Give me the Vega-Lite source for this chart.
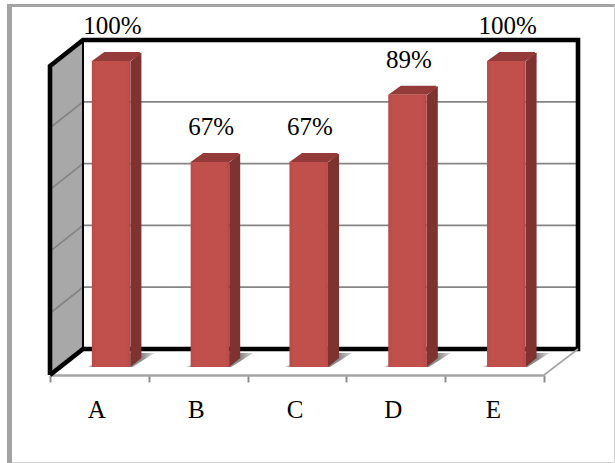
{
  "$schema": "https://vega.github.io/schema/vega-lite/v6.json",
  "width": 494,
  "height": 309,
  "padding": {"left": 50, "top": 66, "right": 71, "bottom": 88},
  "autosize": "none",
  "background": "white",
  "config": {"view": {"stroke": null}, "font": "Liberation Serif"},
  "data": {"values": [
    {"category": "A", "share": 1.0},
    {"category": "B", "share": 0.67},
    {"category": "C", "share": 0.67},
    {"category": "D", "share": 0.89},
    {"category": "E", "share": 1.0}
  ]},
  "resolve": {"scale": {"y": "independent"}},
  "layer": [
    {
      "description": "outer frame, left edge",
      "data": {"values": [{}]},
      "mark": {"type": "point", "shape": "M-40.5 -370L-40.5 88", "size": 4, "filled": false, "opacity": 1, "stroke": "#a3a3a3", "strokeWidth": 5},
      "encoding": {
        "x": {"datum": "A", "type": "nominal", "bandPosition": 0, "title": null, "scale": {"type": "band", "domain": ["A", "B", "C", "D", "E"], "paddingInner": 0, "paddingOuter": 0}},
        "y": {"datum": 0, "type": "quantitative", "scale": {"domain": [0, 1]}, "axis": null}
      }
    },
    {
      "description": "outer frame, top edge",
      "data": {"values": [{}]},
      "mark": {"type": "point", "shape": "M-43 -369.5L565 -369.5", "size": 4, "filled": false, "opacity": 1, "stroke": "#a3a3a3", "strokeWidth": 3},
      "encoding": {
        "x": {"datum": "A", "type": "nominal", "bandPosition": 0, "title": null, "scale": {"type": "band"}},
        "y": {"datum": 0, "type": "quantitative", "scale": {"domain": [0, 1]}, "axis": null}
      }
    },
    {
      "description": "outer frame, thin right and bottom edges",
      "data": {"values": [{}]},
      "mark": {"type": "point", "shape": "M564.5 -370L564.5 87.5L-38 87.5", "size": 4, "filled": false, "opacity": 1, "stroke": "#d4d4d4", "strokeWidth": 1},
      "encoding": {
        "x": {"datum": "A", "type": "nominal", "bandPosition": 0, "title": null, "scale": {"type": "band"}},
        "y": {"datum": 0, "type": "quantitative", "scale": {"domain": [0, 1]}, "axis": null}
      }
    },
    {
      "description": "left side wall",
      "data": {"values": [{}]},
      "mark": {"type": "point", "shape": "M0 0L0 -309L33 -335L33 -26Z", "size": 4, "filled": true, "opacity": 1, "fill": "#a8a8a8"},
      "encoding": {
        "x": {"datum": "A", "type": "nominal", "bandPosition": 0, "title": null, "scale": {"type": "band"}},
        "y": {"datum": 0, "type": "quantitative", "scale": {"domain": [0, 1]}, "axis": null}
      }
    },
    {
      "description": "gridlines running along the side wall and the back wall",
      "data": {"values": [{"level": 0.2}, {"level": 0.4}, {"level": 0.6}, {"level": 0.8}]},
      "mark": {"type": "point", "shape": "M0 0L33 -26L529 -26", "size": 4, "filled": false, "opacity": 1, "stroke": "#858585", "strokeWidth": 1.8},
      "encoding": {
        "x": {"datum": "A", "type": "nominal", "bandPosition": 0, "title": null, "scale": {"type": "band"}},
        "y": {"field": "level", "type": "quantitative", "scale": {"domain": [0, 1]}, "axis": null}
      }
    },
    {
      "description": "thin inner corner of the walls",
      "data": {"values": [{}]},
      "mark": {"type": "point", "shape": "M33 -335L33 -26", "size": 4, "filled": false, "opacity": 1, "stroke": "#000000", "strokeWidth": 2},
      "encoding": {
        "x": {"datum": "A", "type": "nominal", "bandPosition": 0, "title": null, "scale": {"type": "band"}},
        "y": {"datum": 0, "type": "quantitative", "scale": {"domain": [0, 1]}, "axis": null}
      }
    },
    {
      "description": "heavy black outline of the walls",
      "data": {"values": [{}]},
      "mark": {"type": "point", "shape": "M0 0L0 -309L33 -335L528 -335L528 -26L33 -26L0 0", "size": 4, "filled": false, "opacity": 1, "stroke": "#000000", "strokeWidth": 4.6},
      "encoding": {
        "x": {"datum": "A", "type": "nominal", "bandPosition": 0, "title": null, "scale": {"type": "band"}},
        "y": {"datum": 0, "type": "quantitative", "scale": {"domain": [0, 1]}, "axis": null}
      }
    },
    {
      "description": "right edge of the floor",
      "data": {"values": [{}]},
      "mark": {"type": "point", "shape": "M494 0L528 -26", "size": 4, "filled": false, "opacity": 1, "stroke": "#a6a6a6", "strokeWidth": 1.6},
      "encoding": {
        "x": {"datum": "A", "type": "nominal", "bandPosition": 0, "title": null, "scale": {"type": "band"}},
        "y": {"datum": 0, "type": "quantitative", "scale": {"domain": [0, 1]}, "axis": null}
      }
    },
    {
      "description": "category axis along the front of the floor",
      "mark": {"type": "bar", "opacity": 0},
      "encoding": {
        "x": {
          "field": "category",
          "type": "nominal",
          "scale": {"type": "band"},
          "title": null,
          "axis": {
            "orient": "bottom",
            "labelAngle": 0,
            "labelFont": "Liberation Serif",
            "labelFontSize": 25,
            "labelColor": "#000000",
            "labelPadding": 27,
            "labelOffset": 6,
            "domainColor": "#a6a6a6",
            "domainWidth": 2.5,
            "tickColor": "#8c8c8c",
            "tickWidth": 2,
            "tickSize": 7,
            "tickBand": "extent",
            "grid": false
          }
        },
        "y": {"datum": 0, "type": "quantitative", "scale": {"domain": [0, 1]}, "axis": null}
      }
    },
    {
      "description": "soft shadows on the floor behind each column",
      "mark": {"type": "point", "shape": "M-13 0L33 0L55 -14L25 -14Z", "size": 4, "filled": true, "opacity": 1, "fill": {"x1": 0, "y1": 0.5, "x2": 1, "y2": 0.5, "gradient": "linear", "stops": [{"offset": 0, "color": "#eeeeee"}, {"offset": 0.12, "color": "#9c9c9c"}, {"offset": 0.82, "color": "#8a8a8a"}, {"offset": 1, "color": "#dddddd"}]}},
      "encoding": {
        "x": {"field": "category", "type": "nominal", "title": null, "scale": {"type": "band"}},
        "y": {"datum": 0, "type": "quantitative", "scale": {"domain": [-0.0261, 0.9837]}, "axis": null}
      }
    },
    {
      "description": "column side faces",
      "mark": {"type": "bar", "size": 11, "xOffset": 36.5, "y2Offset": -9, "fill": "#7e3331"},
      "encoding": {
        "x": {"field": "category", "type": "nominal", "title": null, "scale": {"type": "band"}},
        "y": {"field": "share", "type": "quantitative", "scale": {"domain": [-0.0261, 0.9837]}, "axis": null},
        "y2": {"datum": 0}
      }
    },
    {
      "description": "upper corner of the column side faces",
      "mark": {"type": "point", "shape": "M31 0.5L42 -8.5L42 0.5Z", "size": 4, "filled": true, "opacity": 1, "fill": "#7e3331"},
      "encoding": {
        "x": {"field": "category", "type": "nominal", "title": null, "scale": {"type": "band"}},
        "y": {"field": "share", "type": "quantitative", "scale": {"domain": [-0.0261, 0.9837]}, "axis": null}
      }
    },
    {
      "description": "lower corner of the column side faces",
      "mark": {"type": "point", "shape": "M31 0L42 -9L31 -9Z", "size": 4, "filled": true, "opacity": 1, "fill": "#7e3331"},
      "encoding": {
        "x": {"field": "category", "type": "nominal", "title": null, "scale": {"type": "band"}},
        "y": {"datum": 0, "type": "quantitative", "scale": {"domain": [-0.0261, 0.9837]}, "axis": null}
      }
    },
    {
      "description": "column top faces",
      "mark": {"type": "point", "shape": "M-7.5 0L31 0L42 -7L40 -9L5 -9Z", "size": 4, "filled": true, "opacity": 1, "fill": "#943a38"},
      "encoding": {
        "x": {"field": "category", "type": "nominal", "title": null, "scale": {"type": "band"}},
        "y": {"field": "share", "type": "quantitative", "scale": {"domain": [-0.0261, 0.9837]}, "axis": null}
      }
    },
    {
      "description": "column front faces",
      "mark": {
        "type": "bar",
        "size": 38.5,
        "xOffset": 11.7,
        "fill": {"x1": 0, "y1": 0, "x2": 1, "y2": 0, "gradient": "linear", "stops": [{"offset": 0, "color": "#b94a47"}, {"offset": 0.12, "color": "#c1504d"}, {"offset": 0.88, "color": "#c1504d"}, {"offset": 1, "color": "#b94a47"}]}
      },
      "encoding": {
        "x": {"field": "category", "type": "nominal", "title": null, "scale": {"type": "band"}},
        "y": {"field": "share", "type": "quantitative", "scale": {"domain": [-0.0261, 0.9837]}, "axis": null},
        "y2": {"datum": 0}
      }
    },
    {
      "description": "percentage labels above the columns",
      "mark": {"type": "text", "font": "Liberation Serif", "fontSize": 25, "color": "#000000", "dx": 13, "dy": -27, "baseline": "alphabetic", "align": "center"},
      "encoding": {
        "x": {"field": "category", "type": "nominal", "title": null, "scale": {"type": "band"}},
        "y": {"field": "share", "type": "quantitative", "scale": {"domain": [-0.0261, 0.9837]}, "axis": null},
        "text": {"field": "share", "type": "quantitative", "format": ".0%"}
      }
    }
  ]
}
